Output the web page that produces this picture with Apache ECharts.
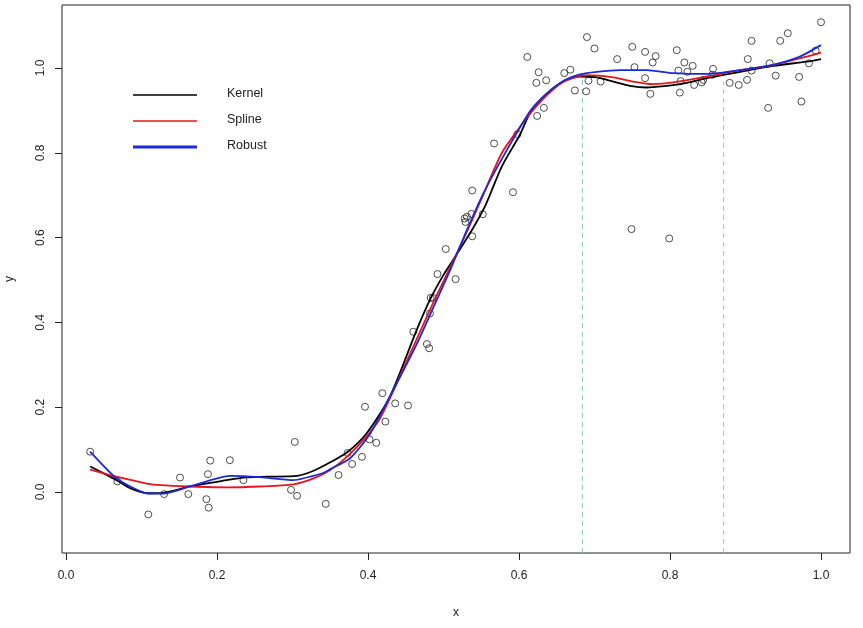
<!DOCTYPE html>
<html>
<head>
<meta charset="utf-8">
<script src="https://cdn.jsdelivr.net/npm/echarts@6/dist/echarts.min.js"></script>
<style>html,body{margin:0;padding:0;background:#fff;}#c{width:863px;height:628px;}</style>
</head>
<body>
<div id="c"></div>
<script>
// ---- data ----
const pointX = [0.032,0.068,0.109,0.130,0.151,0.162,0.186,0.188,0.189,0.191,0.217,0.235,0.298,0.303,0.306,0.344,0.361,0.373,0.379,0.392,0.396,0.402,0.411,0.419,0.423,0.436,0.453,0.460,0.478,0.481,0.482,0.483,0.486,0.492,0.503,0.516,0.528,0.529,0.531,0.537,0.538,0.538,0.552,0.567,0.592,0.598,0.611,0.623,0.624,0.626,0.633,0.636,0.660,0.668,0.674,0.689,0.690,0.692,0.700,0.708,0.730,0.749,0.750,0.753,0.767,0.767,0.774,0.777,0.781,0.799,0.809,0.811,0.813,0.814,0.819,0.823,0.830,0.832,0.842,0.844,0.856,0.857,0.879,0.891,0.902,0.903,0.908,0.908,0.930,0.932,0.940,0.946,0.956,0.971,0.974,0.984,0.993,1.000];
const pointY = [0.095,0.025,-0.053,-0.005,0.034,-0.005,-0.017,0.042,-0.037,0.074,0.075,0.028,0.005,0.118,-0.009,-0.028,0.040,0.092,0.066,0.083,0.201,0.124,0.116,0.233,0.166,0.209,0.204,0.378,0.349,0.339,0.421,0.458,0.458,0.514,0.573,0.502,0.645,0.637,0.649,0.656,0.603,0.711,0.655,0.822,0.707,0.844,1.026,0.965,0.887,0.990,0.906,0.971,0.988,0.996,0.947,0.945,1.073,0.970,1.046,0.968,1.021,0.620,1.050,1.002,1.038,0.976,0.939,1.013,1.028,0.598,1.042,0.994,0.942,0.969,1.013,0.991,1.005,0.960,0.966,0.972,0.984,0.998,0.965,0.960,0.972,1.021,0.994,1.064,0.906,1.011,0.982,1.064,1.082,0.979,0.921,1.011,1.041,1.108];

const kernelX = [0.032,0.050,0.067,0.085,0.107,0.129,0.164,0.213,0.235,0.266,0.306,0.328,0.350,0.372,0.398,0.429,0.464,0.482,0.500,0.517,0.539,0.556,0.577,0.601,0.615,0.637,0.659,0.681,0.703,0.725,0.747,0.769,0.796,0.813,0.849,0.893,0.937,0.981,1.000];
const kernelY = [0.060,0.044,0.028,0.009,-0.003,-0.002,0.013,0.028,0.034,0.036,0.038,0.050,0.070,0.093,0.138,0.225,0.380,0.453,0.512,0.559,0.622,0.678,0.767,0.842,0.895,0.940,0.968,0.980,0.978,0.968,0.958,0.954,0.958,0.962,0.976,0.991,1.005,1.015,1.021];

const splineX = [0.032,0.067,0.107,0.125,0.164,0.213,0.257,0.301,0.328,0.350,0.372,0.398,0.416,0.440,0.486,0.509,0.531,0.550,0.577,0.600,0.615,0.637,0.659,0.690,0.725,0.751,0.778,0.804,0.849,0.893,0.937,0.981,1.000];
const splineY = [0.053,0.036,0.020,0.016,0.013,0.011,0.013,0.018,0.032,0.052,0.083,0.131,0.174,0.264,0.445,0.531,0.614,0.690,0.799,0.858,0.893,0.936,0.968,0.983,0.978,0.968,0.962,0.966,0.980,0.995,1.007,1.027,1.036];

const robustX = [0.032,0.067,0.107,0.129,0.164,0.217,0.257,0.301,0.341,0.350,0.376,0.403,0.438,0.464,0.486,0.509,0.531,0.553,0.579,0.615,0.637,0.659,0.681,0.703,0.734,0.769,0.804,0.849,0.893,0.937,0.972,1.000];
const robustY = [0.095,0.032,-0.003,-0.004,0.013,0.038,0.035,0.028,0.045,0.054,0.079,0.138,0.256,0.347,0.433,0.524,0.618,0.705,0.791,0.899,0.940,0.970,0.985,0.991,0.995,0.995,0.988,0.986,0.995,1.008,1.027,1.054];

const refX = [0.684, 0.871];
const refTop = [0.985, 0.968];

const xTicks = [0, 0.2, 0.4, 0.6, 0.8, 1.0];
const yTicks = [0, 0.2, 0.4, 0.6, 0.8, 1.0];
const seriesNames = ['Kernel', 'Spline', 'Robust'];

// ---- build ----
const zip = (a, b) => a.map((v, i) => [v, b[i]]);
const X_MIN = -0.0053, X_MAX = 1.0384, Y_MIN = -0.1439, Y_MAX = 1.1486;
const FONT = 'Liberation Sans, Arial, sans-serif';

const chart = echarts.init(document.getElementById('c'), null, {renderer: 'canvas'});

const refSeries = refX.map((x, i) => ({
  type: 'line', data: [[x, Y_MIN], [x, refTop[i]]], showSymbol: false, silent: true,
  lineStyle: {color: '#8ec3d8', width: 1, type: [5, 4]}, z: 1
}));

const legendY = [95, 121, 147];
const legendColors = ['#000000', '#e8141c', '#1a2ad8'];
const legendWidths = [1.6, 1.6, 3];
const graphics = [];
seriesNames.forEach((n, i) => {
  graphics.push({type: 'line', shape: {x1: 133, y1: legendY[i], x2: 197, y2: legendY[i]},
    style: {stroke: legendColors[i], lineWidth: legendWidths[i]}});
  graphics.push({type: 'text', left: 227, top: legendY[i] - 8,
    style: {text: n, fill: '#222', font: '12.5px ' + FONT}});
});

chart.setOption({
  animation: false,
  backgroundColor: '#fff',
  grid: {left: 62, right: 13, top: 5, bottom: 75, show: true, borderColor: '#222', borderWidth: 1,
    containLabel: false, outerBoundsMode: 'none'},
  xAxis: {
    type: 'value', min: X_MIN, max: X_MAX,
    name: 'x', nameLocation: 'middle', nameGap: 54,
    nameTextStyle: {fontFamily: FONT, fontSize: 12, color: '#222'},
    axisLine: {show: false, onZero: false},
    axisTick: {show: true, length: 7, inside: false, customValues: xTicks, lineStyle: {color: '#222'}},
    axisLabel: {customValues: xTicks, formatter: v => v.toFixed(1), margin: 17, fontFamily: FONT, fontSize: 12, color: '#222'},
    splitLine: {show: false}
  },
  yAxis: {
    type: 'value', min: Y_MIN, max: Y_MAX,
    name: 'y', nameLocation: 'middle', nameGap: 46, nameRotate: 90,
    nameTextStyle: {fontFamily: FONT, fontSize: 12, color: '#222'},
    axisLine: {show: false, onZero: false},
    axisTick: {show: true, length: 7, inside: false, customValues: yTicks, lineStyle: {color: '#222'}},
    axisLabel: {customValues: yTicks, formatter: v => v.toFixed(1), rotate: 90, margin: 15, fontFamily: FONT, fontSize: 12, color: '#222'},
    splitLine: {show: false}
  },
  graphic: graphics,
  series: [
    ...refSeries,
    {type: 'scatter', name: 'points', data: zip(pointX, pointY), symbol: 'circle', symbolSize: 7,
      itemStyle: {color: 'rgba(0,0,0,0)', borderColor: '#222', borderWidth: 1}, z: 2},
    {type: 'line', name: seriesNames[0], data: zip(kernelX, kernelY), showSymbol: false, smooth: 0.25,
      lineStyle: {color: legendColors[0], width: 1.8}, z: 3},
    {type: 'line', name: seriesNames[1], data: zip(splineX, splineY), showSymbol: false, smooth: 0.25,
      lineStyle: {color: legendColors[1], width: 1.8}, z: 4},
    {type: 'line', name: seriesNames[2], data: zip(robustX, robustY), showSymbol: false, smooth: 0.2,
      lineStyle: {color: legendColors[2], width: 1.8}, z: 5}
  ]
});
</script>
</body>
</html>
